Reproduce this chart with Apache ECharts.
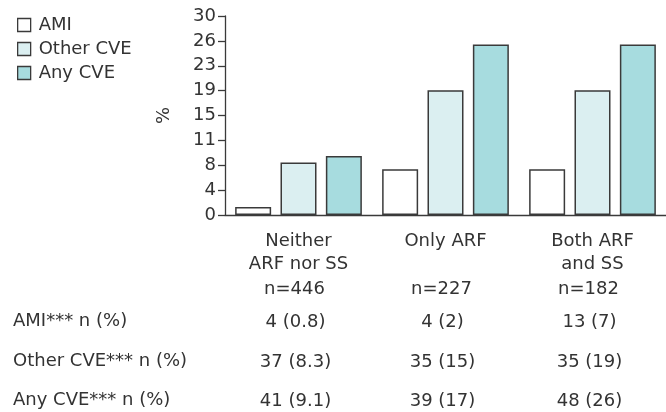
<!DOCTYPE html>
<html>
<head>
<meta charset="utf-8">
<script src="https://cdn.jsdelivr.net/npm/echarts@6/dist/echarts.min.js"></script>
<style>
html,body{margin:0;padding:0;background:#fff;}
#chart{width:666px;height:412px;}
</style>
</head>
<body>
<div id="chart"></div>
<script>
// ---- data ----
const categories = ['Neither ARF nor SS', 'Only ARF', 'Both ARF and SS'];
const catLine1 = ['Neither', 'Only ARF', 'Both ARF'];
const catLine2 = ['ARF nor SS', ' ', 'and SS'];
const nLabels = ['n=446', 'n=227', 'n=182'];
const seriesNames = ['AMI', 'Other CVE', 'Any CVE'];
const amiValues = [1.2, 6.9, 6.9];
const otherValues = [7.9, 18.8, 18.8];
const anyValues = [8.9, 25.7, 25.7];
const rowLabels = ['AMI*** n (%)', 'Other CVE*** n (%)', 'Any CVE*** n (%)'];
const amiTable = ['4 (0.8)', '4 (2)', '13 (7)'];
const otherTable = ['37 (8.3)', '35 (15)', '35 (19)'];
const anyTable = ['41 (9.1)', '39 (17)', '48 (26)'];
const yMin = 0, yMax = 30, yInterval = 3.75;

// ---- style ----
const FONT = 'DejaVu Sans';
const TXT = '#333333';
const LINE = '#3a3a3a';
const colors = ['#ffffff', '#dbeff1', '#a7dcdf'];

const chart = echarts.init(document.getElementById('chart'), null, {renderer: 'canvas'});

function barSeries(name, data, color) {
  return {
    name: name,
    type: 'bar',
    data: data,
    barWidth: 36,
    barGap: '26%',
    itemStyle: {color: color, borderColor: LINE, borderWidth: 1.5},
    emphasis: {disabled: true}
  };
}

const rowCenters = [322.5, 362.5, 401.5];

chart.setOption({
  animation: false,
  textStyle: {fontFamily: FONT, color: TXT},
  legend: {
    orient: 'vertical',
    left: 12,
    top: 11,
    itemWidth: 13,
    itemHeight: 13,
    itemGap: 6,
    icon: 'rect',
    data: seriesNames,
    itemStyle: {borderColor: LINE, borderWidth: 1.3},
    textStyle: {fontFamily: FONT, fontSize: 18, color: TXT, padding: [0, 0, 0, 3]}
  },
  grid: {left: 225, right: 0, top: 16, height: 199},
  xAxis: {
    type: 'category',
    data: categories,
    axisLine: {lineStyle: {color: LINE, width: 1.3}},
    axisTick: {alignWithLabel: true, length: 7, lineStyle: {color: LINE, width: 1.3}},
    axisLabel: {
      margin: 15,
      interval: 0,
      color: TXT,
      fontFamily: FONT,
      fontSize: 18,
      formatter: function (v, i) {
        return '{l1|' + catLine1[i] + '}\n{l2|' + catLine2[i] + '}\n{n|' + nLabels[i] +
          '}\n{t1|' + amiTable[i] + '}\n{t2|' + otherTable[i] + '}\n{t3|' + anyTable[i] + '}';
      },
      rich: {
        l1: {fontFamily: FONT, fontSize: 18, color: TXT, lineHeight: 23},
        l2: {fontFamily: FONT, fontSize: 18, color: TXT, lineHeight: 23},
        n: {fontFamily: FONT, fontSize: 18, color: TXT, lineHeight: 26, padding: [0, 8, 0, 0]},
        t1: {fontFamily: FONT, fontSize: 18, color: TXT, lineHeight: 41, padding: [0, 6, 0, 0]},
        t2: {fontFamily: FONT, fontSize: 18, color: TXT, lineHeight: 39, padding: [0, 6, 0, 0]},
        t3: {fontFamily: FONT, fontSize: 18, color: TXT, lineHeight: 39, padding: [0, 6, 0, 0]}
      }
    }
  },
  yAxis: {
    type: 'value',
    min: yMin,
    max: yMax,
    interval: yInterval,
    name: '%',
    nameLocation: 'middle',
    nameRotate: 90,
    nameGap: 52,
    nameTextStyle: {fontFamily: FONT, fontSize: 18, color: TXT},
    splitLine: {show: false},
    axisLine: {show: true, lineStyle: {color: LINE, width: 1.3}},
    axisTick: {show: true, length: 7, lineStyle: {color: LINE, width: 1.3}},
    axisLabel: {
      margin: 9,
      color: TXT,
      fontFamily: FONT,
      fontSize: 18,
      formatter: function (v) { return String(Math.round(v)); }
    }
  },
  graphic: rowLabels.map(function (t, i) {
    return {
      type: 'text',
      left: 13,
      top: rowCenters[i] - 10,
      style: {text: t, fontFamily: FONT, fontSize: 18, fill: TXT}
    };
  }),
  series: [
    barSeries(seriesNames[0], amiValues, colors[0]),
    barSeries(seriesNames[1], otherValues, colors[1]),
    barSeries(seriesNames[2], anyValues, colors[2])
  ]
});
</script>
</body>
</html>
